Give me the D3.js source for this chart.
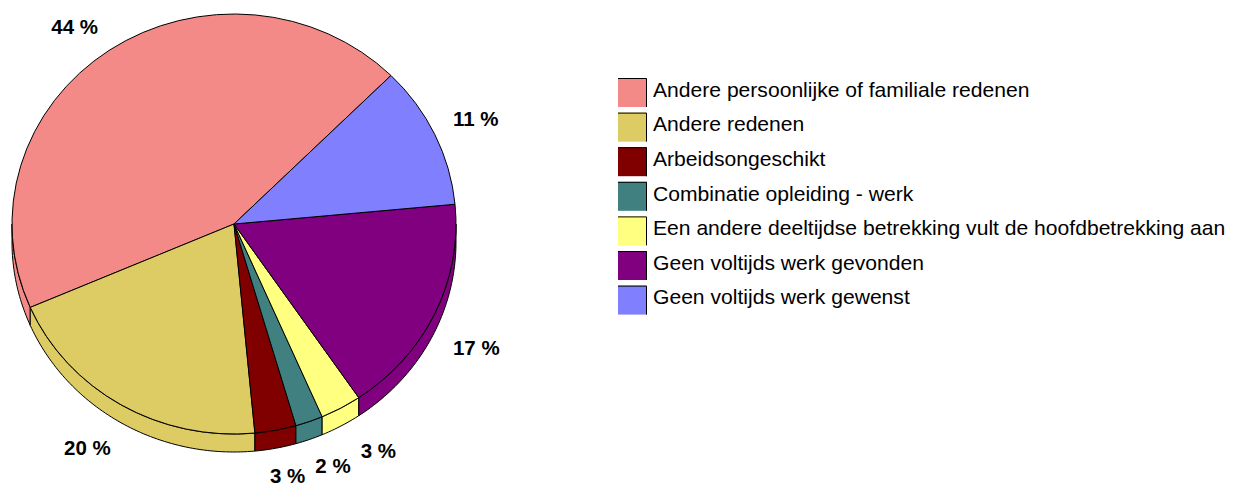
<!DOCTYPE html>
<html lang="nl">
<head>
<meta charset="UTF-8">
<title>Redenen deeltijds werk</title>
<script src="https://cdn.jsdelivr.net/npm/d3@7"></script>
<style>
    body { margin: 0; background: #fff; }
    svg { display: block; font-family: Arial, "Liberation Sans", sans-serif; }
</style>
</head>
<body>
<svg id="chart" width="1244" height="490"></svg>
<script>
    var categories = [
        "Andere persoonlijke of familiale redenen",
        "Andere redenen",
        "Arbeidsongeschikt",
        "Combinatie opleiding - werk",
        "Een andere deeltijdse betrekking vult de hoofdbetrekking aan",
        "Geen voltijds werk gevonden",
        "Geen voltijds werk gewenst"
    ];
    var values = [44, 20, 3, 2, 3, 17, 11];
    var colors = ["#f38a87", "#ddcb63", "#800000", "#408080", "#ffff80", "#800080", "#8080ff"];

    var svg = d3.select("#chart");

    // pie geometry (flattened ellipse + side wall)
    var cx = 234, cy = 224, rx = 222, ry = 210, depth = 18;

    var pie = d3.pie()
            .sort(null)
            .value(function (d) { return d; })
            .startAngle(Math.PI / 4)
            .endAngle(Math.PI / 4 - 2 * Math.PI);

    var arcs = pie(values);

    function pt(a, dy) {
        return [cx + rx * Math.sin(a), cy - ry * Math.cos(a) + (dy || 0)];
    }

    var line = d3.line();

    // visible side walls: lower half of the ellipse
    var walls = [];
    arcs.forEach(function (d, i) {
        var lo = Math.min(d.startAngle, d.endAngle),
            hi = Math.max(d.startAngle, d.endAngle);
        [-1, 0, 1].forEach(function (k) {
            var a = Math.max(lo, Math.PI / 2 + 2 * Math.PI * k),
                b = Math.min(hi, 3 * Math.PI / 2 + 2 * Math.PI * k);
            if (b - a > 1e-6) walls.push({a: a, b: b, i: i});
        });
    });

    svg.append("g")
            .attr("class", "walls")
            .selectAll("path")
            .data(walls)
            .enter().append("path")
            .attr("d", function (w) {
                var n = Math.max(2, Math.ceil((w.b - w.a) * 60)), pts = [], j;
                for (j = 0; j <= n; j++) pts.push(pt(w.a + (w.b - w.a) * j / n, 0));
                for (j = n; j >= 0; j--) pts.push(pt(w.a + (w.b - w.a) * j / n, depth));
                return line(pts) + "Z";
            })
            .attr("fill", function (w) { return colors[w.i]; })
            .attr("stroke", "#000")
            .attr("stroke-width", 1)
            .attr("stroke-linejoin", "round");

    var arc = d3.arc().innerRadius(0).outerRadius(rx);

    svg.append("g")
            .attr("class", "tops")
            .attr("transform", "translate(" + cx + "," + cy + ") scale(1," + (ry / rx) + ")")
            .selectAll("path")
            .data(arcs)
            .enter().append("path")
            .attr("d", arc)
            .attr("fill", function (d, i) { return colors[i]; })
            .attr("stroke", "#000")
            .attr("stroke-width", 1)
            .attr("vector-effect", "non-scaling-stroke")
            .attr("stroke-linejoin", "round");

    // percentage labels, hung off the rim by quadrant
    var fs = 20.5, cap = fs * 0.716, pad = 10, vpad = 8;
    var labels = svg.append("g").attr("class", "labels")
            .selectAll("text")
            .data(arcs)
            .enter().append("text")
            .style("font-size", fs + "px")
            .style("font-weight", "bold")
            .text(function (d) { return d.value + " %"; });

    var boxes = [];
    labels.each(function (d) {
        var w = this.getComputedTextLength(),
            mid = (d.startAngle + d.endAngle) / 2,
            s = Math.sin(mid), c = Math.cos(mid),
            ax = cx + (rx + 20) * s,
            ay = cy - (ry + 20) * c + (c < 0 ? depth : 0),
            x0 = s >= 0 ? ax : ax - w,
            top = c < 0 ? ay : ay - cap;
        boxes.push({el: this, x0: x0, w: w, y0: top});
    });

    // spread crowded labels sideways
    for (var it = 0; it < 80; it++) {
        boxes.forEach(function (a, i) {
            boxes.forEach(function (b, j) {
                if (j <= i) return;
                var l = a.x0 < b.x0 ? a : b, r = l === a ? b : a;
                var vOverlap = a.y0 < b.y0 + cap + vpad && b.y0 < a.y0 + cap + vpad;
                var need = l.x0 + l.w + pad - r.x0;
                if (vOverlap && need > 0) {
                    l.x0 -= need / 2;
                    r.x0 += need / 2;
                }
            });
        });
    }

    boxes.forEach(function (b) {
        d3.select(b.el).attr("x", b.x0).attr("y", b.y0 + cap);
    });

    // legend
    var legend = svg.append("g")
            .attr("class", "legend")
            .attr("transform", "translate(618,78)");

    var row = legend.selectAll("g")
            .data(categories)
            .enter().append("g")
            .attr("transform", function (d, i) { return "translate(0," + (i * 34.6) + ")"; });

    row.append("rect")
            .attr("width", 29)
            .attr("height", 29)
            .attr("fill", function (d, i) { return colors[i]; });

    row.append("path")
            .attr("d", "M0,0.5H28.5V29")
            .attr("fill", "none")
            .attr("stroke", "#000")
            .attr("stroke-width", 1);

    row.append("text")
            .attr("x", 35)
            .attr("y", 18.7)
            .style("font-size", "21.1px")
            .attr("fill", "#000")
            .text(function (d) { return d; });
</script>
</body>
</html>
